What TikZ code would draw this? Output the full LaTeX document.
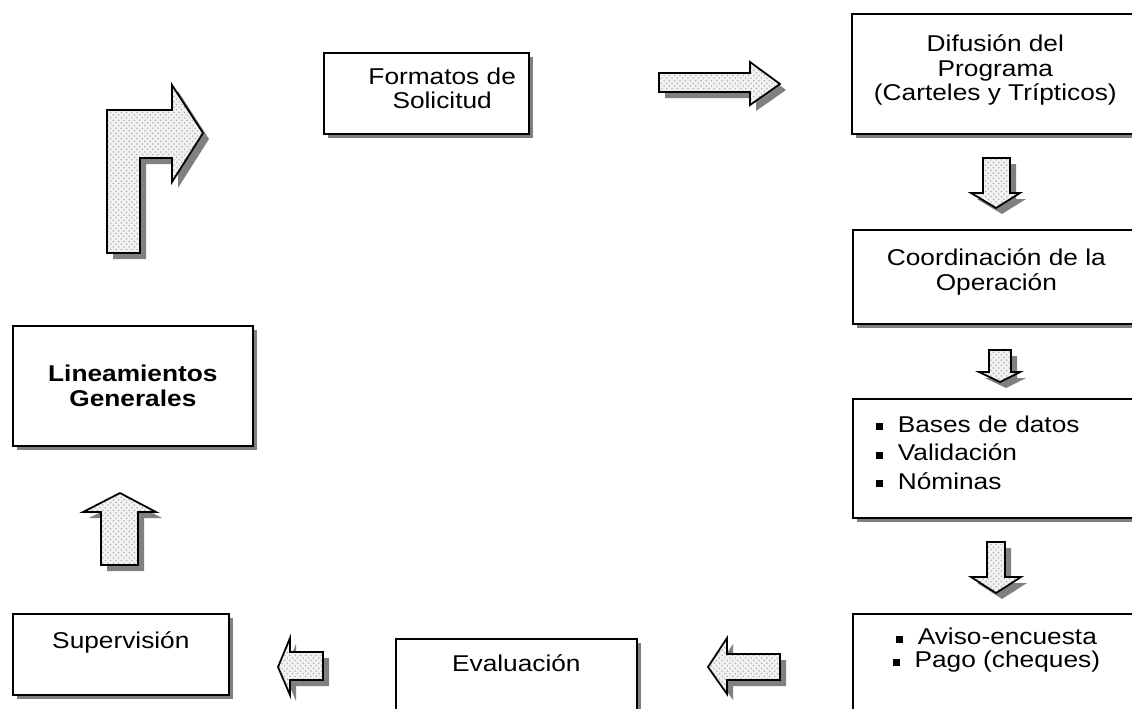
\documentclass[tikz,border=0pt]{standalone}
\usepackage{fontspec}
\setmainfont{Liberation Sans}[FakeStretch=1.15]
\usetikzlibrary{shadows,patterns}

\tikzstyle{box}=[rectangle, draw=black, line width=1pt, fill=white, anchor=north west, align=center, font=\fontsize{13}{14}\selectfont, drop shadow={shadow xshift=0.08cm, shadow yshift=-0.08cm, fill=black!50, opacity=1}]
\tikzstyle{blockarrow}=[draw=black, line width=1pt, line join=miter, drop shadow={shadow xshift=0.12cm, shadow yshift=-0.12cm, fill=black!50, opacity=1}, preaction={fill=black!5}, pattern=crosshatch dots, pattern color=black!30]

\newcommand{\sqbullet}{\makebox[12.5pt][l]{\rule[1.3pt]{4pt}{4pt}}}

\begin{document}
\begin{tikzpicture}[x=0.02cm, y=-0.02cm]
\useasboundingbox (0,0) rectangle (1132,708);
\clip (0,0) rectangle (1132,708);

% boxes
\node (formatos) at (323,52) [box, minimum width=4.1cm, minimum height=1.62cm, text depth=6pt] {\hspace*{18pt}Formatos de\\\hspace*{18pt}Solicitud};
\node (difusion) at (851,13) [box, minimum width=5.74cm, minimum height=2.4cm, text depth=7pt] {Difusión del\\Programa\\(Carteles y Trípticos)};
\node (coordinacion) at (852,229) [box, minimum width=5.74cm, minimum height=1.88cm, text depth=8pt] {Coordinación de la\\Operación};
\node (bases) at (852,398) [box, minimum width=5.74cm, minimum height=2.38cm, inner xsep=0.46cm, text width=4.82cm, align=left, font=\fontsize{13}{16.2}\selectfont, text depth=39pt] {\sqbullet Bases de datos\\\sqbullet Validación\\\sqbullet Nóminas};
\node (aviso) at (852,613) [box, minimum width=5.74cm, minimum height=2cm, font=\fontsize{13}{13.1}\selectfont, text depth=18pt] {\sqbullet Aviso-encuesta\\\sqbullet Pago (cheques)};
\node (evaluacion) at (395,638) [box, minimum width=4.82cm, minimum height=1.6cm, text depth=18pt] {Evaluación};
\node (supervision) at (12,613) [box, minimum width=4.32cm, minimum height=1.62cm, text depth=16pt] {Supervisión};
\node (lineamientos) at (12,325) [box, minimum width=4.8cm, minimum height=2.4cm, font=\bfseries\fontsize{13}{14}\selectfont] {Lineamientos\\Generales};

% block arrows
\draw[blockarrow] (107,253) -- (107,110) -- (172,110) -- (172,85) -- (203,133) -- (172,182) -- (172,158) -- (140,158) -- (140,253) -- cycle;
\draw[blockarrow] (659,73) -- (750,73) -- (750,62) -- (780,84) -- (750,105) -- (750,92) -- (659,92) -- cycle;
\draw[blockarrow] (983,158) -- (1010,158) -- (1010,193) -- (1020,193) -- (996,208) -- (971,193) -- (983,193) -- cycle;
\draw[blockarrow] (989,350) -- (1011,350) -- (1011,372) -- (1020,372) -- (1000,382) -- (979,372) -- (989,372) -- cycle;
\draw[blockarrow] (987,542) -- (1005,542) -- (1005,577) -- (1021,577) -- (996,593) -- (971,577) -- (987,577) -- cycle;
\draw[blockarrow] (780,654) -- (727,654) -- (727,638) -- (708,667) -- (727,694) -- (727,680) -- (780,680) -- cycle;
\draw[blockarrow] (323,652) -- (290,652) -- (290,638) -- (278,667) -- (290,695) -- (290,680) -- (323,680) -- cycle;
\draw[blockarrow] (101,565) -- (101,512) -- (83,512) -- (120,493) -- (156,512) -- (138,512) -- (138,565) -- cycle;

\end{tikzpicture}
\end{document}
